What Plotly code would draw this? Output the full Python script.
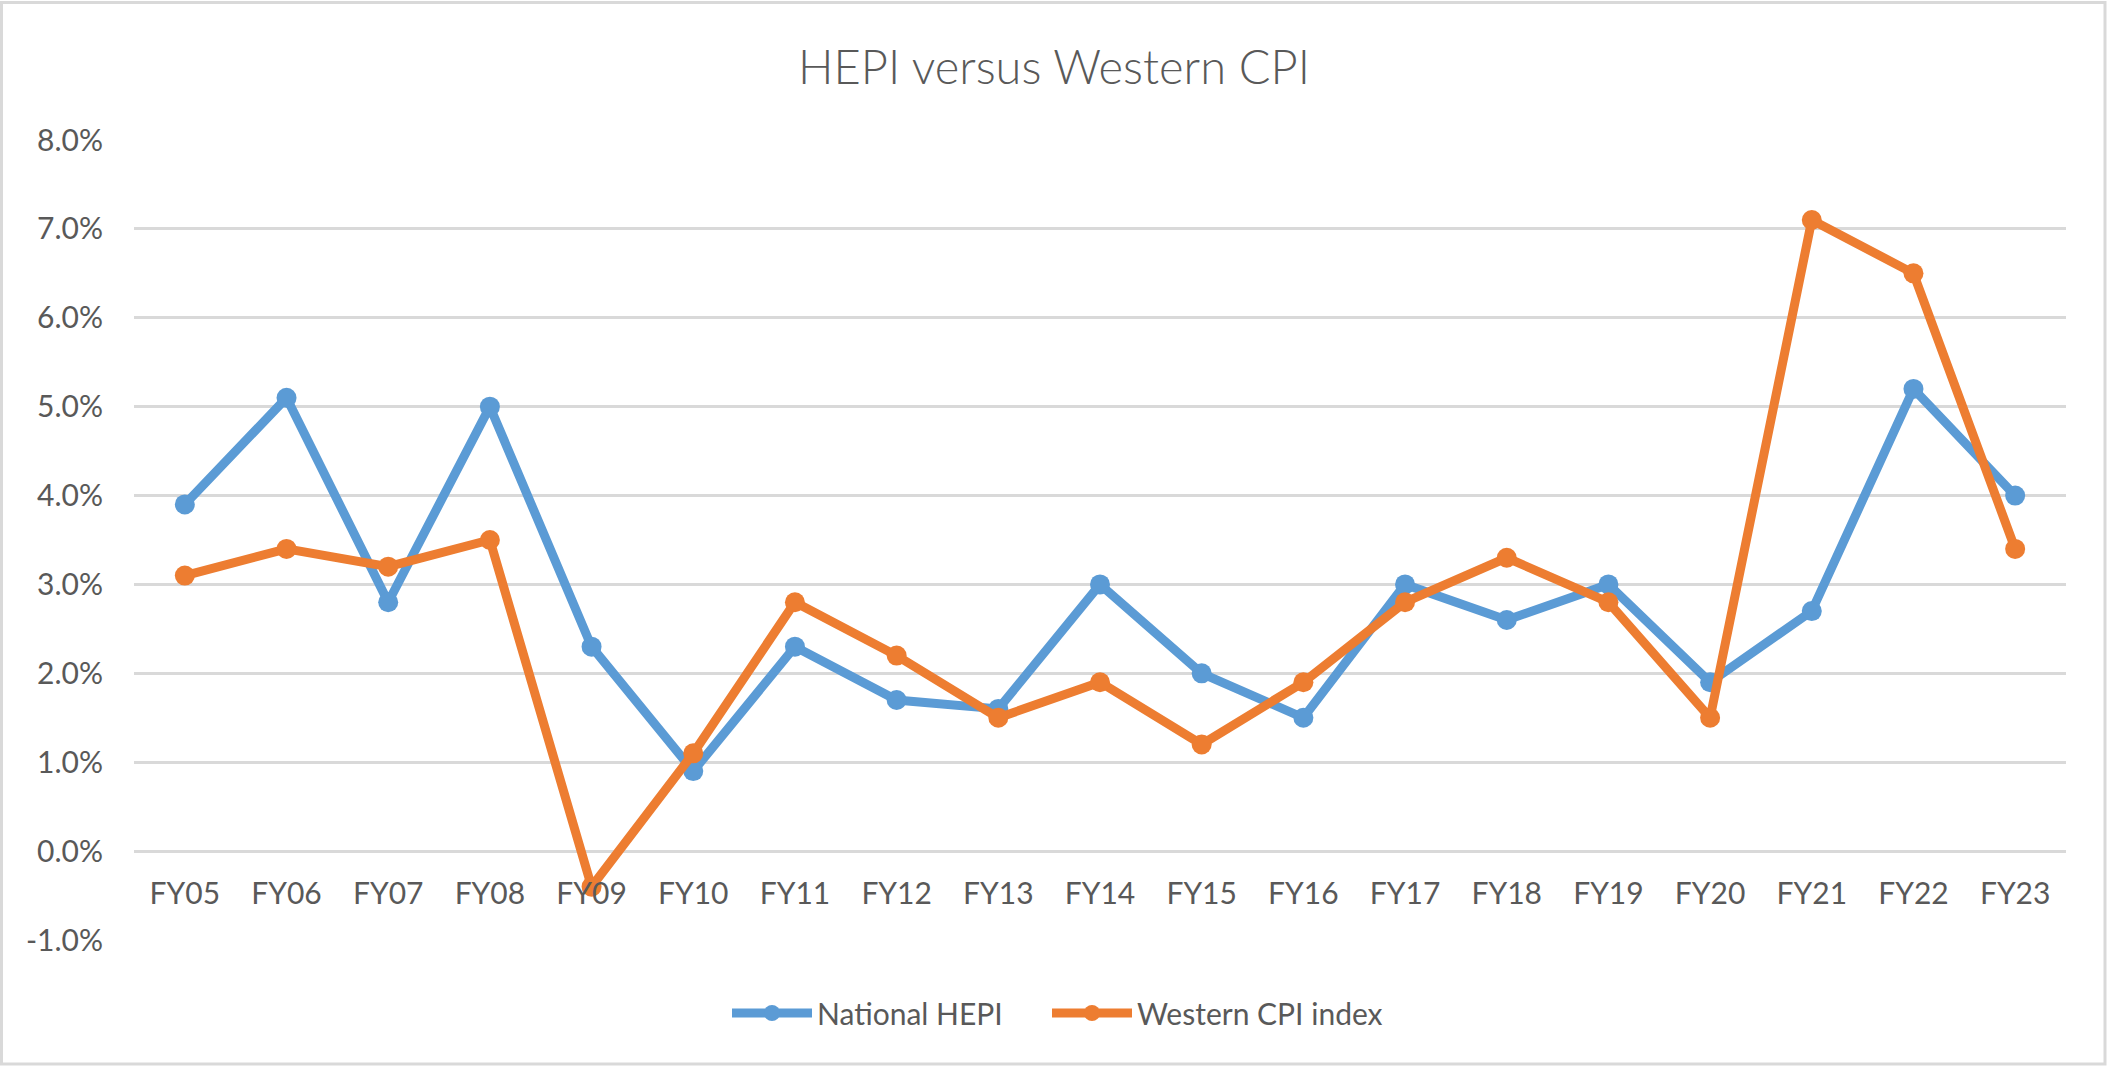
import plotly.graph_objects as go

categories = ["FY05", "FY06", "FY07", "FY08", "FY09", "FY10", "FY11", "FY12", "FY13", "FY14",
              "FY15", "FY16", "FY17", "FY18", "FY19", "FY20", "FY21", "FY22", "FY23"]
national_hepi = [3.9, 5.1, 2.8, 5.0, 2.3, 0.9, 2.3, 1.7, 1.6, 3.0,
                 2.0, 1.5, 3.0, 2.6, 3.0, 1.9, 2.7, 5.2, 4.0]
western_cpi = [3.1, 3.4, 3.2, 3.5, -0.4, 1.1, 2.8, 2.2, 1.5, 1.9,
               1.2, 1.9, 2.8, 3.3, 2.8, 1.5, 7.1, 6.5, 3.4]
y_ticks = [-1, 0, 1, 2, 3, 4, 5, 6, 7, 8]
y_tick_labels = [f"{v:.1f}%" for v in y_ticks]

BLUE = "#5B9BD5"
ORANGE = "#ED7D31"
TEXT = "#595959"
GRID = "#D9D9D9"
FONT = "Lato"

W, H = 2108, 1066
ML, MR, MT, MB = 134, 42, 140, 126

fig = go.Figure()
fig.add_trace(go.Scatter(x=categories, y=national_hepi, mode="lines+markers", name="National HEPI",
                         line=dict(color=BLUE, width=9), marker=dict(color=BLUE, size=20),
                         legend="legend"))
fig.add_trace(go.Scatter(x=categories, y=western_cpi, mode="lines+markers", name="Western CPI index",
                         line=dict(color=ORANGE, width=9), marker=dict(color=ORANGE, size=20),
                         legend="legend2"))

pw = W - ML - MR
ph = H - MT - MB

def px_x(p):
    return (p - ML) / pw

def px_y(p):
    return (H - MB - p) / ph

legend_common = dict(orientation="h", xanchor="left", xref="paper",
                     y=px_y(1013), yanchor="middle", yref="paper",
                     font=dict(size=30, color=TEXT), itemwidth=80,
                     bgcolor="rgba(0,0,0,0)")

fig.update_layout(
    width=W, height=H,
    margin=dict(l=ML, r=MR, t=MT, b=MB, autoexpand=False),
    paper_bgcolor="white", plot_bgcolor="white",
    font=dict(family=FONT, color=TEXT, size=30),
    title=dict(text="HEPI versus Western CPI", x=0.5, xref="container", xanchor="center",
               y=1 - 68 / H, yref="container", yanchor="middle",
               font=dict(family=FONT, size=47, color=TEXT, weight=300)),
    showlegend=True,
    legend=dict(x=px_x(727), **legend_common),
    legend2=dict(x=px_x(1047), **legend_common),
    xaxis=dict(type="category", range=[-0.5, len(categories) - 0.5], showgrid=False,
               showline=False, zeroline=False, ticks="", anchor="free",
               position=(0 - y_ticks[0]) / (y_ticks[-1] - y_ticks[0]),
               tickfont=dict(size=30, color=TEXT), ticklabelstandoff=22, tickangle=0),
    yaxis=dict(range=[y_ticks[0], y_ticks[-1]], tickvals=y_ticks, ticktext=y_tick_labels,
               showgrid=True, gridcolor=GRID, gridwidth=2.5, zeroline=False, showline=False,
               ticks="", tickfont=dict(size=30, color=TEXT), ticklabelstandoff=30),
    shapes=[dict(type="rect", xref="paper", yref="paper",
                 x0=px_x(1.5), x1=px_x(2105), y0=px_y(1064), y1=px_y(2.5),
                 line=dict(color=GRID, width=3), fillcolor="rgba(0,0,0,0)", layer="below")],
)

fig.write_html("out.html", config={"displayModeBar": False},
               post_script="document.body.style.margin='0';")
